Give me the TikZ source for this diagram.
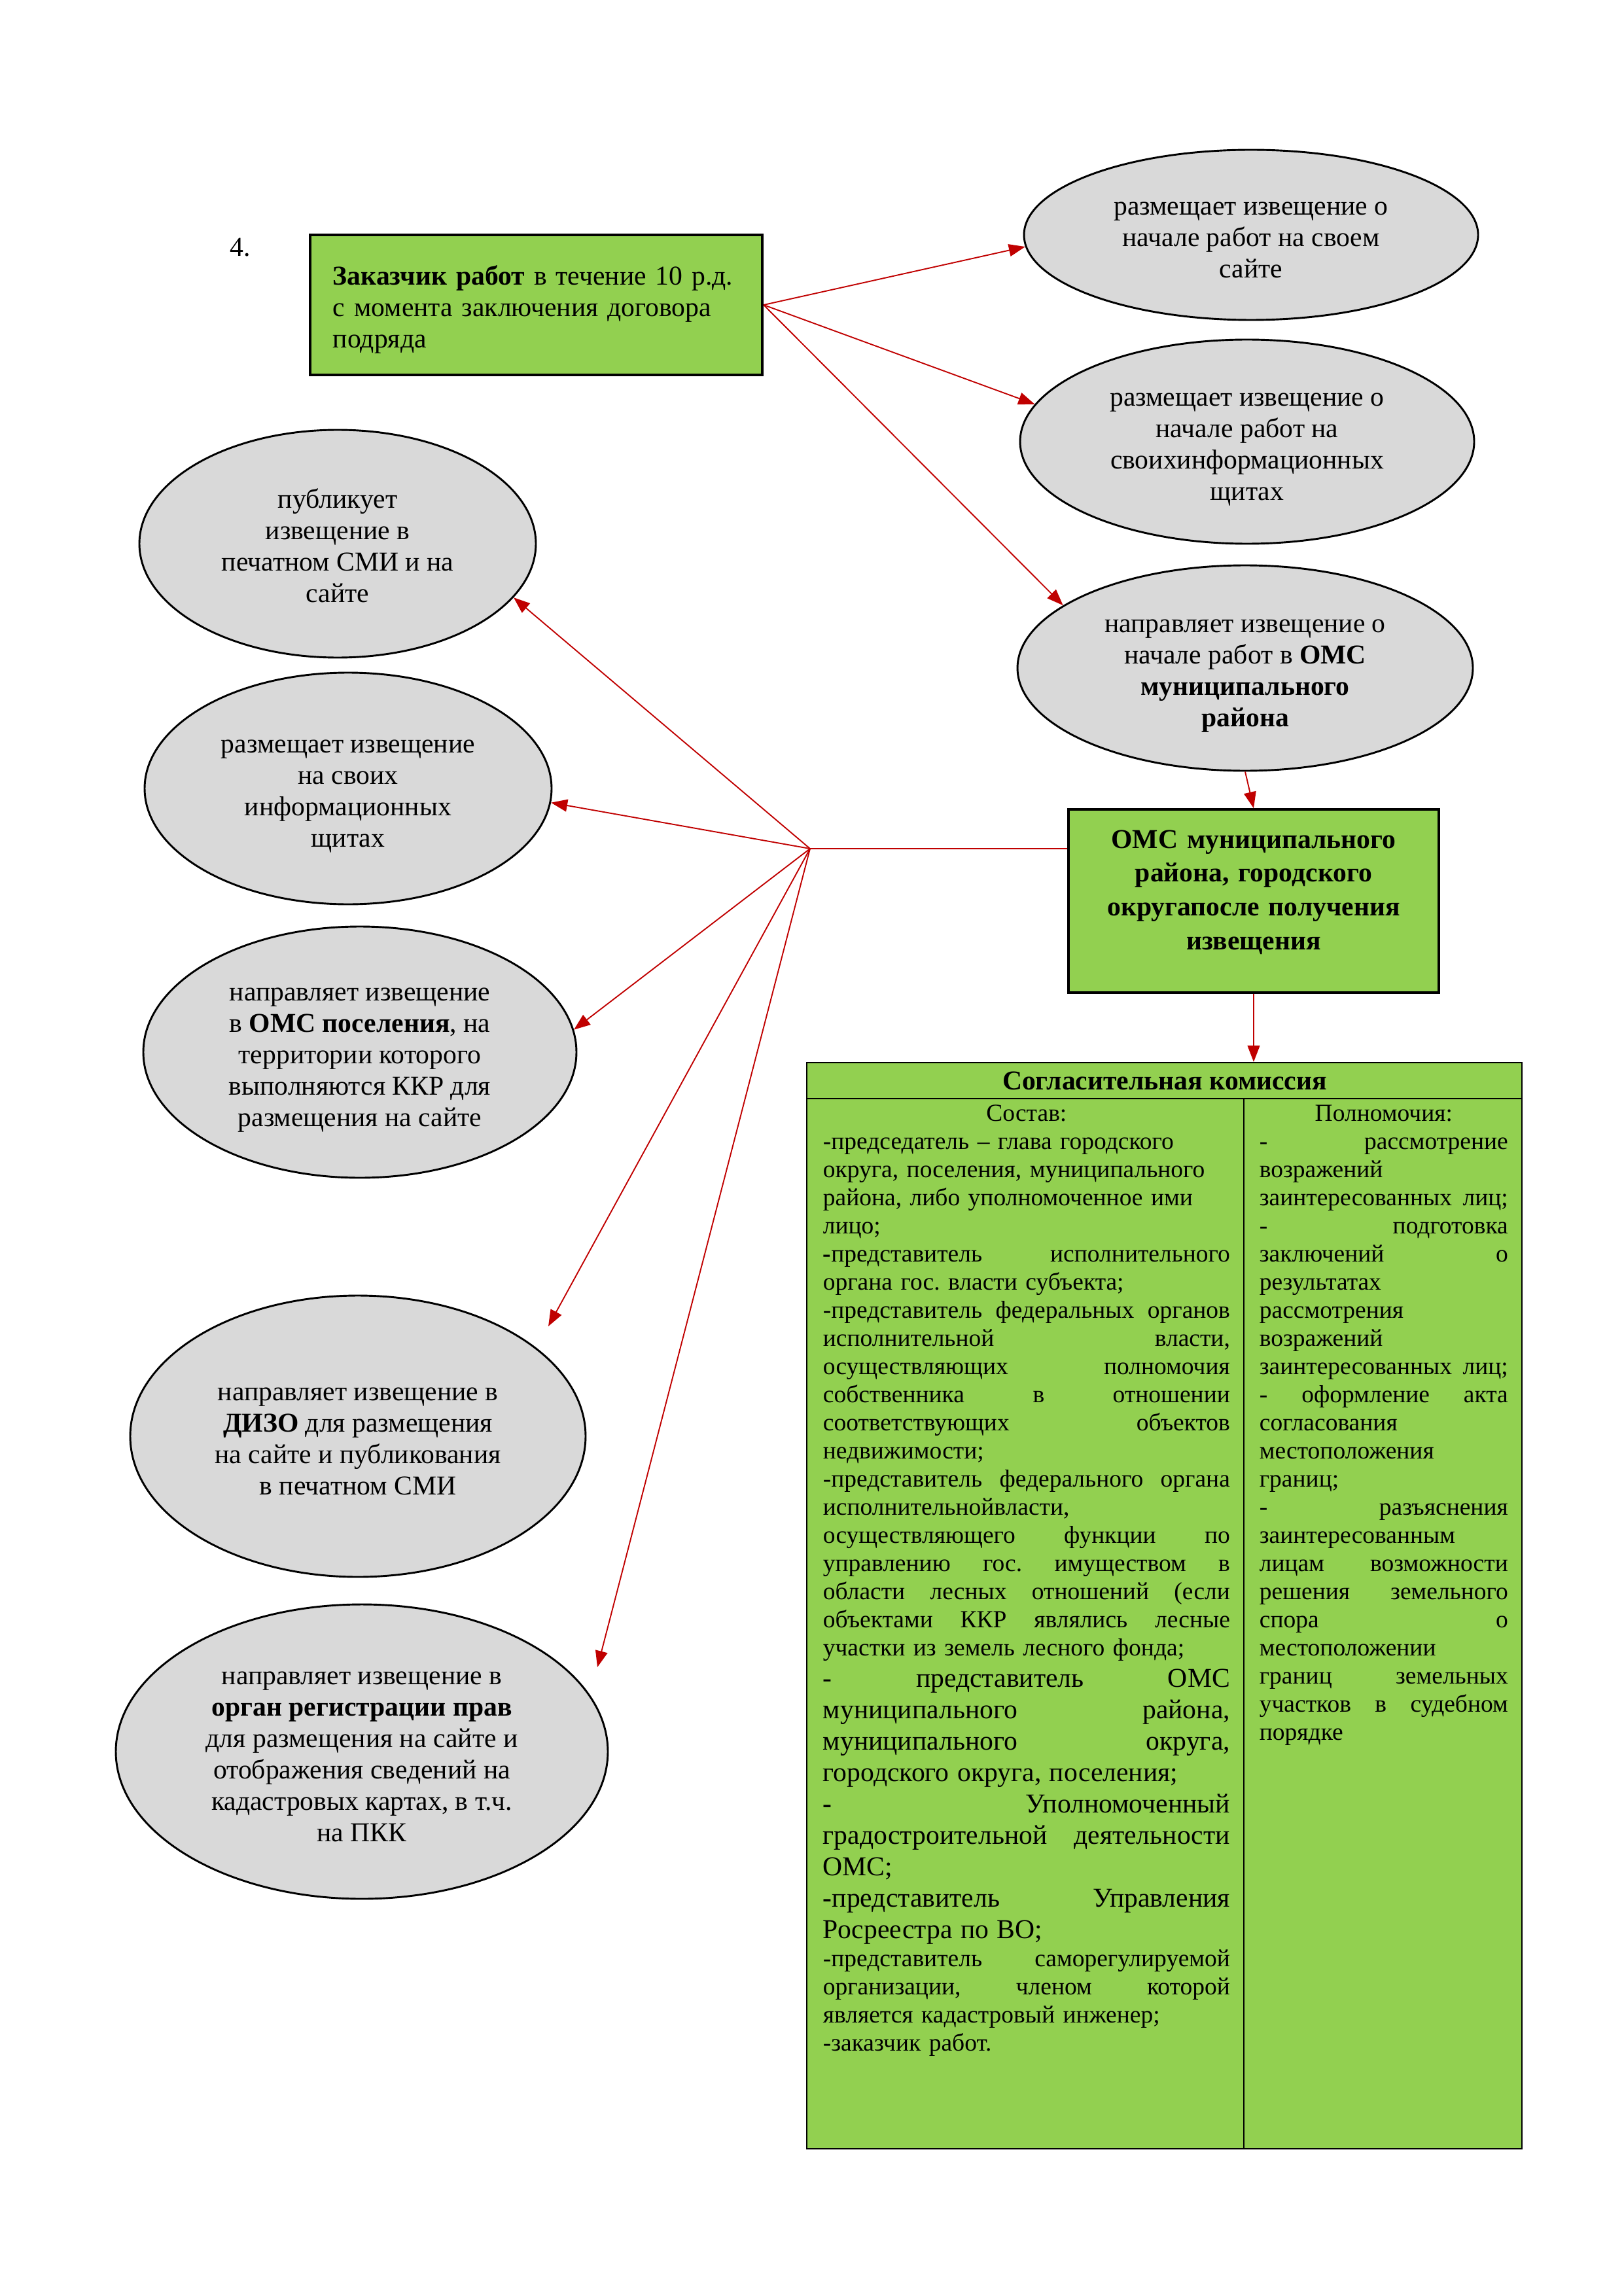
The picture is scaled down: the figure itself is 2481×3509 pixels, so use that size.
\documentclass[tikz,border=0pt]{standalone}
\usepackage{fontspec}
\setmainfont{Liberation Serif}
\usetikzlibrary{shapes.geometric,arrows.meta}
\definecolor{gfill}{HTML}{92D050}
\definecolor{efill}{HTML}{D9D9D9}
\definecolor{arrred}{HTML}{C00000}
\frenchspacing
\newcommand\jl[1]{\hbox to \hsize{\spaceskip=0.25em plus 1fil\relax #1}\par}
\newcommand\rl[1]{#1\par}
\newcommand\cl[1]{\hbox to \hsize{\hfil #1\hfil}\par}
\newcommand\ts{\rule{0pt}{11.8pt}}
\newcommand\bs{\rule[-3.45pt]{0pt}{0pt}}
\begin{document}
\begin{tikzpicture}[x=0.24pt,y=-0.24pt,
  oval/.style={ellipse, draw=black, line width=0.7pt, fill=efill, inner sep=0pt, align=center, font=\fontsize{10}{11.5}\selectfont},
  gbox/.style={rectangle, draw=black, fill=gfill, inner sep=0pt},
  arr/.style={draw=arrred, line width=0.45pt, -{Triangle[length=6pt,width=4.5pt]}},
  conn/.style={draw=arrred, line width=0.45pt},
  coltext/.style={anchor=north west, inner sep=0pt, font=\frenchspacing\fontsize{9}{10.32}\selectfont}
]
\useasboundingbox (0,0) rectangle (2481,3509);

\node[anchor=base, inner sep=0pt, font=\fontsize{10}{11.5}\selectfont] (num) at (367,392) {4.};

% box 1
\node[gbox, line width=1pt, minimum width=165.84pt, minimum height=51.36pt] (b1) at (819.5,466) {};
\node[anchor=north west, inner sep=0pt, text width=155pt, align=left, font=\fontsize{10}{11.5}\selectfont] (b1t) at (508,401.5)
 {\strut\textbf{Заказчик работ} в течение 10 р.д.\\с момента заключения договора\\подряда};

% right ellipses
\node[oval, minimum width=166.56pt, minimum height=62.4pt] (E1) at (1912,359)
 {\ts размещает извещение о\\начале работ на своем\\сайте\bs};
\node[oval, minimum width=166.56pt, minimum height=74.88pt] (E2) at (1906,675)
 {\ts размещает извещение о\\начале работ на\\своихинформационных\\щитах\bs};
\node[oval, minimum width=167.04pt, minimum height=75.36pt] (E3) at (1903,1021)
 {\ts направляет извещение о\\начале работ в \textbf{ОМС}\\\textbf{муниципального}\\\textbf{района}\bs};

% box 2
\node[gbox, line width=0.8pt, minimum width=135.84pt, minimum height=67.2pt] (b2) at (1916,1377) {};
\node[anchor=north, inner sep=0pt, text width=130pt, align=center, font=\bfseries\fontsize{10}{12.4}\selectfont] (b2t) at (1916,1259)
 {\strut ОМС муниципального\\района, городского\\округапосле получения\\извещения};

% left ellipses
\node[oval, minimum width=145.44pt, minimum height=83.52pt] (L1) at (516,831)
 {\ts публикует\\извещение в\\печатном СМИ и на\\сайте\bs};
\node[oval, minimum width=149.28pt, minimum height=84.96pt] (L2) at (532,1205)
 {\ts размещает извещение\\на своих\\информационных\\щитах\bs};
\node[oval, minimum width=158.88pt, minimum height=92.16pt] (L3) at (550,1608)
 {\ts направляет извещение\\в \textbf{ОМС поселения}, на\\территории которого\\выполняются ККР для\\размещения на сайте\bs};
\node[oval, minimum width=167.04pt, minimum height=103.2pt] (L4) at (547,2195)
 {\ts направляет извещение в\\\textbf{ДИЗО} для размещения\\на сайте и публикования\\в печатном СМИ\bs};
\node[oval, minimum width=180.48pt, minimum height=108pt] (L5) at (553,2677)
 {\ts направляет извещение в\\\textbf{орган регистрации прав}\\для размещения на сайте и\\отображения сведений на\\кадастровых картах, в т.ч.\\на ПКК\bs};

% table
\node[gbox, line width=0.5pt, minimum width=262.32pt, minimum height=398.4pt] (tbl) at (1779.5,2454) {};
\draw[line width=0.5pt] (1233,1679) -- (2326,1679);
\draw[line width=0.5pt] (1901,1679) -- (1901,3284);
\node[anchor=base, inner sep=0pt, font=\bfseries\fontsize{10}{12}\selectfont] (thead) at (1780,1665) {Согласительная комиссия};

\node[coltext, text width=149.3pt] (lcol) at (1257,1683) {%
\cl{\strut Состав:}
\rl{-председатель – глава городского}
\rl{округа, поселения, муниципального}
\rl{района, либо уполномоченное ими}
\rl{лицо;}
\jl{\textbf{-}представитель исполнительного}
\rl{органа гос. власти субъекта;}
\jl{-представитель федеральных органов}
\jl{исполнительной власти,}
\jl{осуществляющих полномочия}
\jl{собственника в отношении}
\jl{соответствующих объектов}
\rl{недвижимости;}
\jl{-представитель федерального органа}
\rl{исполнительнойвласти,}
\jl{осуществляющего функции по}
\jl{управлению гос. имуществом в}
\jl{области лесных отношений (если}
\jl{объектами ККР являлись лесные}
\rl{участки из земель лесного фонда;}
\fontsize{10}{11.5}\selectfont
\jl{- представитель ОМС}
\jl{муниципального района,}
\jl{муниципального округа,}
\rl{городского округа, поселения;}
\jl{\textbf{-} Уполномоченный}
\jl{градостроительной деятельности}
\rl{ОМС;}
\jl{\textbf{-}представитель Управления}
\rl{Росреестра по ВО;}
\fontsize{9}{10.32}\selectfont
\jl{-представитель саморегулируемой}
\jl{организации, членом которой}
\rl{является кадастровый инженер;}
\rl{-заказчик работ.}};

\node[coltext, text width=91.2pt] (rcol) at (1924,1683) {%
\cl{\strut Полномочия:}
\jl{- рассмотрение}
\rl{возражений}
\jl{заинтересованных лиц;}
\jl{- подготовка}
\jl{заключений о}
\rl{результатах}
\rl{рассмотрения}
\rl{возражений}
\jl{заинтересованных лиц;}
\jl{- оформление акта}
\rl{согласования}
\rl{местоположения}
\rl{границ;}
\jl{- разъяснения}
\rl{заинтересованным}
\jl{лицам возможности}
\jl{решения земельного}
\jl{спора о}
\rl{местоположении}
\jl{границ земельных}
\jl{участков в судебном}
\rl{порядке}};

% connectors
\coordinate (hub) at (1238,1297);
\coordinate (t4) at (838,2027);
\coordinate (t5) at (913,2548);

\draw[arr] (b1.east) -- (E1.183);
\draw[arr] (b1.east) -- (E2.170);
\draw[arr] (b1.east) -- (E3.161);
\draw[arr] (E3.south) -- (b2.north);
\draw[arr] (b2.south) -- (b2.south |- tbl.north);
\draw[conn] (hub) -- (hub -| b2.west);
\draw[arr] (hub) -- (L1.-17);
\draw[arr] (hub) -- (L2.-4);
\draw[arr] (hub) -- (L3.6);
\draw[arr] (hub) -- (t4);
\draw[arr] (hub) -- (t5);
\end{tikzpicture}
\end{document}
